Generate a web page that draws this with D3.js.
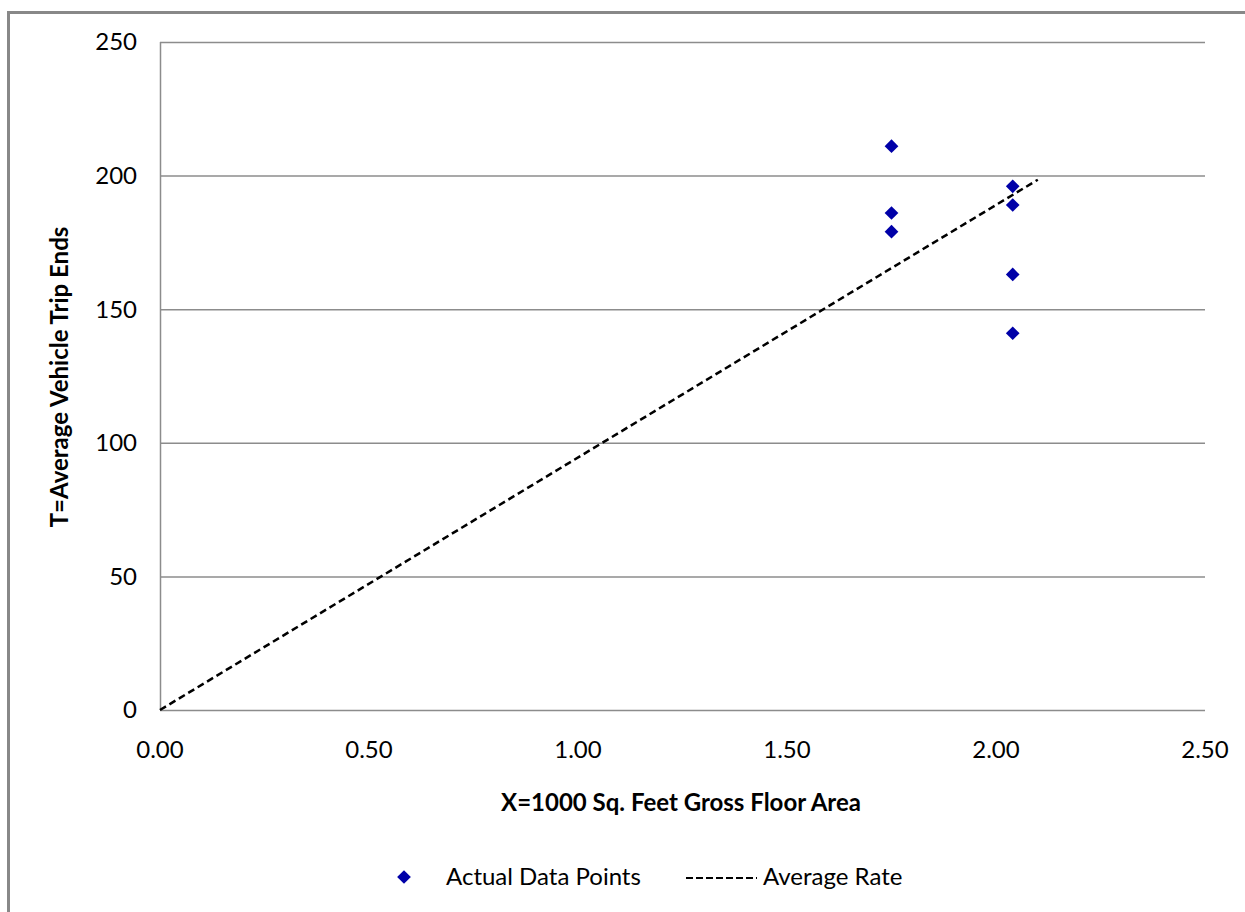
<!DOCTYPE html>
<html><head><meta charset="utf-8">
<script src="https://cdn.jsdelivr.net/npm/d3@7"></script>
<style>body{margin:0;background:#fff}svg{display:block}text{font-family:Lato,"Open Sans",sans-serif}</style>
</head><body>
<script>
const xTicks = [0, 0.5, 1.0, 1.5, 2.0, 2.5];
const yTicks = [0, 50, 100, 150, 200, 250];
const pointX = [1.75, 1.75, 1.75, 2.04, 2.04, 2.04, 2.04];
const pointY = [211, 186, 179, 196, 189, 163, 141];
const avgRate = 94.5;
const lineX = [0, 2.1];
const xTitle = "X=1000 Sq. Feet Gross Floor Area";
const yTitle = "T=Average Vehicle Trip Ends";
const legendLabels = ["Actual Data Points", "Average Rate"];

const W = 1245, H = 912;
const svg = d3.select("body").append("svg").attr("width", W).attr("height", H);
svg.append("rect").attr("x", 8.5).attr("y", 12.5).attr("width", W + 10).attr("height", H + 10)
  .attr("fill", "#fff").attr("stroke", "#888").attr("stroke-width", 3);

const x = d3.scaleLinear().domain([0, 2.5]).range([160, 1205]);
const y = d3.scaleLinear().domain([0, 250]).range([710, 42]);

// gridlines
svg.append("g").selectAll("line").data(yTicks).join("line")
  .attr("x1", x(0)).attr("x2", x(2.5)).attr("y1", d => y(d) + 0.5).attr("y2", d => y(d) + 0.5)
  .attr("stroke", "#8c8c8c").attr("stroke-width", 1.5);
svg.append("line").attr("x1", x(0) + 0.5).attr("x2", x(0) + 0.5).attr("y1", y(250)).attr("y2", y(0))
  .attr("stroke", "#8c8c8c").attr("stroke-width", 1.5);

// tick labels
svg.append("g").selectAll("text").data(yTicks).join("text")
  .attr("x", 137).attr("y", d => y(d)).attr("dy", "0.35em").attr("text-anchor", "end")
  .attr("font-size", 24).attr("fill", "#000").text(d => d3.format("d")(d));
svg.append("g").selectAll("text").data(xTicks).join("text")
  .attr("x", d => x(d)).attr("y", 750).attr("dy", "0.35em").attr("text-anchor", "middle")
  .attr("font-size", 24).attr("fill", "#000").text(d => d3.format(".2f")(d));

// titles
svg.append("text").attr("x", (500 + 862) / 2).attr("y", 803).attr("dy", "0.35em").attr("text-anchor", "middle")
  .attr("font-size", 24).attr("font-weight", "bold").text(xTitle);
svg.append("text").attr("transform", "translate(60,377) rotate(-90)").attr("dy", "0.35em").attr("text-anchor", "middle")
  .attr("font-size", 24).attr("font-weight", "bold").text(yTitle);

// average line
svg.append("path").datum(lineX)
  .attr("d", d3.line().x(d => x(d)).y(d => y(d * avgRate)))
  .attr("fill", "none").attr("stroke", "#000").attr("stroke-width", 2.5).attr("stroke-dasharray", "7,4");

// points
const diamond = d3.symbol().type(d3.symbolDiamond2).size(120);
svg.append("g").selectAll("path").data(pointX.map((d, i) => [d, pointY[i]])).join("path")
  .attr("transform", d => `translate(${x(d[0])},${y(d[1])})`).attr("d", diamond).attr("fill", "#0000a8");

// legend
svg.append("path").attr("transform", "translate(404,877)").attr("d", diamond).attr("fill", "#0000a8");
svg.append("text").attr("x", 446).attr("y", 877).attr("dy", "0.35em").attr("font-size", 24).text(legendLabels[0]);
svg.append("line").attr("x1", 686).attr("x2", 757).attr("y1", 878).attr("y2", 878)
  .attr("stroke", "#000").attr("stroke-width", 2).attr("stroke-dasharray", "7,3");
svg.append("text").attr("x", 763).attr("y", 877).attr("dy", "0.35em").attr("font-size", 24).text(legendLabels[1]);
</script>
</body></html>
